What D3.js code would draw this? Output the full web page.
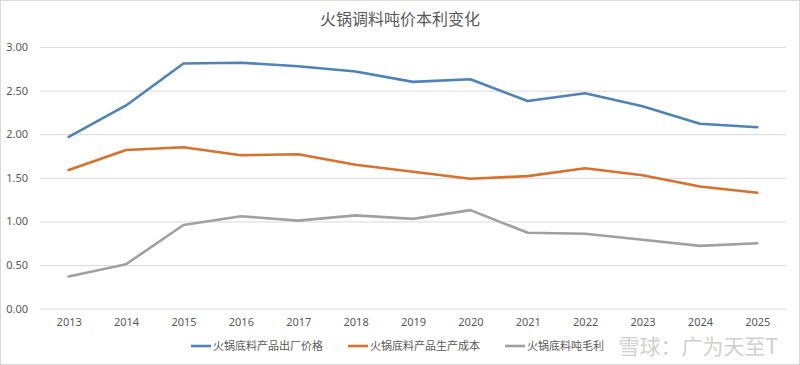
<!DOCTYPE html>
<html>
<head>
<meta charset="utf-8">
<script src="https://cdn.jsdelivr.net/npm/d3@7"></script>
<style>
  body { margin: 0; background: #fff; }
  text { font-family: "Noto Sans CJK SC", "Noto Sans", sans-serif; }
</style>
</head>
<body>
<div id="chart"></div>
<script>
// Data
const years = ["2013","2014","2015","2016","2017","2018","2019","2020","2021","2022","2023","2024","2025"];
const factoryPrice = [1.97, 2.33, 2.81, 2.82, 2.78, 2.72, 2.60, 2.63, 2.38, 2.47, 2.32, 2.12, 2.08];
const productionCost = [1.59, 1.82, 1.85, 1.76, 1.77, 1.65, 1.57, 1.49, 1.52, 1.61, 1.53, 1.40, 1.33];
const grossProfit = [0.37, 0.51, 0.96, 1.06, 1.01, 1.07, 1.03, 1.13, 0.87, 0.86, 0.79, 0.72, 0.75];
const seriesNames = ["火锅底料产品出厂价格", "火锅底料产品生产成本", "火锅底料吨毛利"];
const yTicks = [0, 0.5, 1, 1.5, 2, 2.5, 3];

const series = [
  { name: seriesNames[0], values: factoryPrice, color: "#4f83b8" },
  { name: seriesNames[1], values: productionCost, color: "#d6722e" },
  { name: seriesNames[2], values: grossProfit, color: "#a0a0a0" }
];

// Chart dimensions
const width = 800;
const height = 365;
const margin = { top: 47, right: 14, bottom: 56, left: 40 };

const svg = d3.select("#chart").append("svg")
  .attr("width", width)
  .attr("height", height);

// outer border
svg.append("rect")
  .attr("x", 0.5).attr("y", 0.5)
  .attr("width", width - 1).attr("height", height - 1)
  .attr("fill", "#fff")
  .attr("stroke", "#d9d9d9");

const x = d3.scalePoint()
  .domain(years)
  .range([margin.left, width - margin.right])
  .padding(0.5);

const y = d3.scaleLinear()
  .domain([0, 3])
  .range([height - margin.bottom - 0.3, margin.top]);

// Title
svg.append("text")
  .attr("x", width / 2)
  .attr("y", 25)
  .attr("text-anchor", "middle")
  .attr("font-size", 16)
  .attr("fill", "#595959")
  .text("火锅调料吨价本利变化");

// Gridlines + y labels
const yAxis = svg.append("g")
  .attr("transform", `translate(${margin.left},0)`)
  .call(d3.axisLeft(y).tickValues(yTicks).tickFormat(d3.format(".2f"))
    .tickSize(-(width - margin.left - margin.right)).tickPadding(12));
yAxis.select(".domain").remove();
yAxis.selectAll(".tick line").attr("stroke", "#d9d9d9").attr("stroke-width", 1);
yAxis.selectAll(".tick text")
  .attr("font-size", 11)
  .attr("fill", "#595959")
  .style("font-family", "'Noto Sans', sans-serif");

// X labels
const xAxis = svg.append("g")
  .attr("transform", `translate(0,${y(0)})`)
  .call(d3.axisBottom(x).tickSize(0).tickPadding(10));
xAxis.select(".domain").remove();
xAxis.selectAll(".tick text")
  .attr("font-size", 11)
  .attr("fill", "#595959")
  .style("font-family", "'Noto Sans', sans-serif");

// Lines
const line = d3.line()
  .x((d, i) => x(years[i]))
  .y(d => y(d));

svg.selectAll(".series").data(series).join("path")
  .attr("class", "series")
  .attr("d", d => line(d.values))
  .attr("fill", "none")
  .attr("stroke", d => d.color)
  .attr("stroke-width", 2.6)
  .attr("stroke-linejoin", "round")
  .attr("stroke-linecap", "round");

// Legend
const legendX = [191, 348, 505];
const legend = svg.selectAll(".legend").data(series).join("g")
  .attr("class", "legend")
  .attr("transform", (d, i) => `translate(${legendX[i]},346)`);

legend.append("line")
  .attr("x1", 0).attr("x2", 20)
  .attr("y1", 0).attr("y2", 0)
  .attr("stroke", d => d.color)
  .attr("stroke-width", 2.6);

legend.append("text")
  .attr("x", 22)
  .attr("y", 4)
  .attr("font-size", 11)
  .attr("fill", "#595959")
  .text(d => d.name);

// watermark
svg.append("text")
  .attr("x", 778)
  .attr("y", 354)
  .attr("text-anchor", "end")
  .attr("font-size", 21)
  .attr("fill", "#c8c8c8")
  .attr("opacity", 0.85)
  .text("雪球：广为天至T");
</script>
</body>
</html>
